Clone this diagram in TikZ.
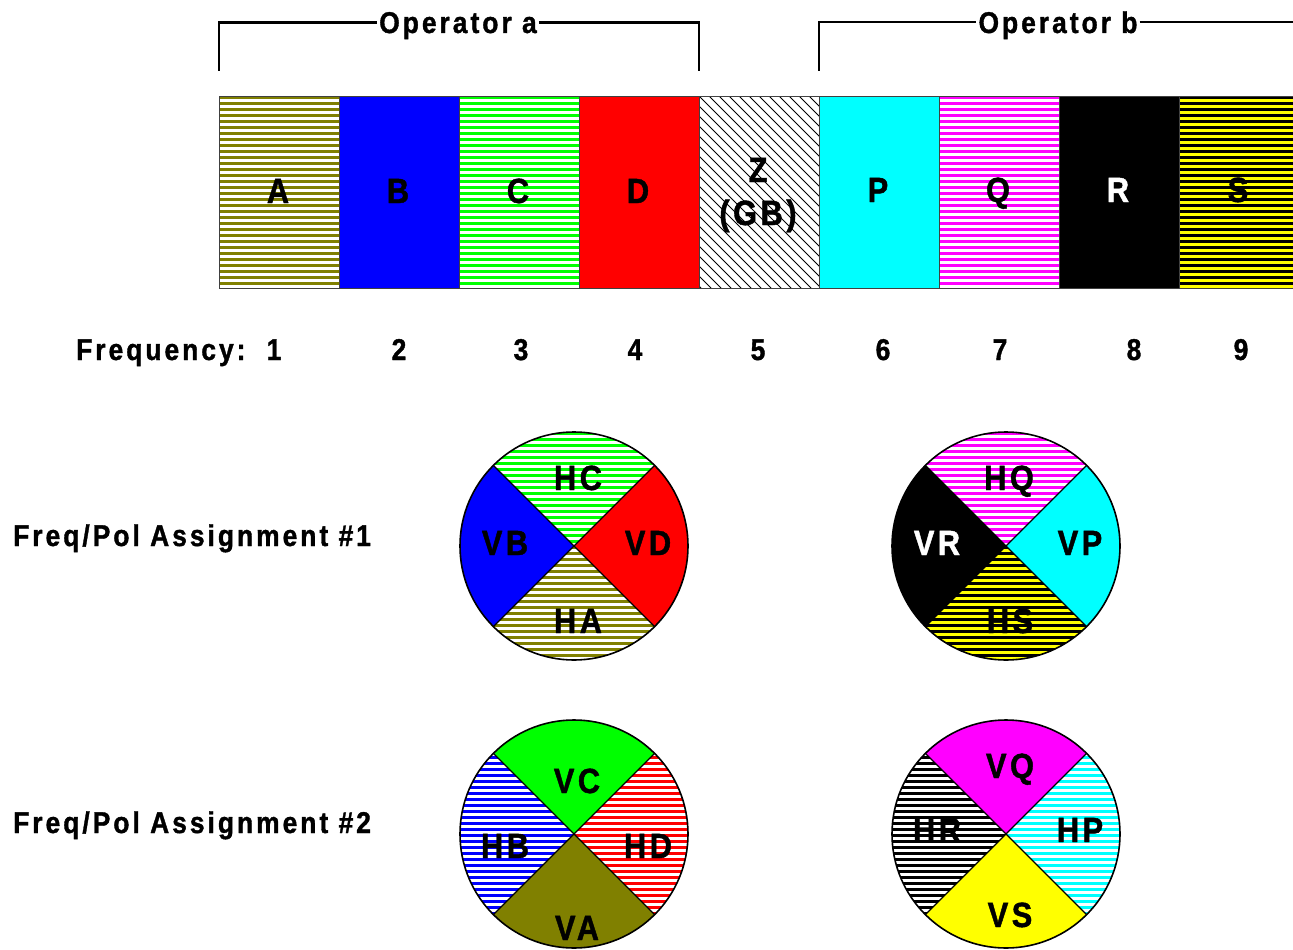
\documentclass[tikz,border=0pt]{standalone}
\usepackage{fontspec}
\newfontfamily\labfont[FakeStretch=0.88,LetterSpace=10,FakeBold=1.2]{Liberation Sans Bold}

\definecolor{cOlive}{RGB}{128,128,0}
\definecolor{cBlue}{RGB}{0,0,255}
\definecolor{cGreen}{RGB}{0,255,0}
\definecolor{cRed}{RGB}{255,0,0}
\definecolor{cCyan}{RGB}{0,255,255}
\definecolor{cMagenta}{RGB}{255,0,255}
\definecolor{cYellow}{RGB}{255,255,0}

% area filled with horizontal stripes: #1 path, #2 ground colour, #3 stripe colour
\newcommand\stripearea[3]{%
  \begin{scope}
    \clip #1;
    \fill[#2] (0,0) rectangle (1300,950);
    \foreach \sy in {0,6,...,948}
      \fill[#3] (0,\sy) rectangle (1300,\sy+3.4);
  \end{scope}}

% quarter sector of a disc: #1 centre, #2 start angle, #3 end angle
\newcommand\sect[3]{(#1) -- ++(#2:114) arc[start angle=#2, end angle=#3, radius=114] -- cycle}

\tikzset{
  small/.style={font=\labfont\fontsize{30}{30}\selectfont, anchor=base, inner sep=0pt},
  big/.style={font=\labfont\fontsize{35}{35}\selectfont, anchor=base, inner sep=0pt},
  bracket/.style={line width=2.6pt},
  barline/.style={draw=black!75, line width=1pt},
  rim/.style={line width=1.6pt},
  sepline/.style={line width=1.3pt},
}

\begin{document}
\begin{tikzpicture}[x=1pt, y=-1pt]
\useasboundingbox[fill=white] (0,0) rectangle (1293,950);

% ---- operator brackets ----
\node[small, text depth=0pt, inner xsep=2pt] (opa) at (458,33) {Operator a};
\node[small, text depth=0pt, inner xsep=2pt] (opb) at (1058,33) {Operator b};
\coordinate (aL) at (219,71);
\coordinate (aR) at (699,71);
\coordinate (bL) at (819,71);
\coordinate (bR) at (1293,71);
\draw[bracket] (aL) |- (opa.west);
\draw[bracket] (opa.east) -| (aR);
\draw[bracket] (bL) |- (opb.west);
\draw[bracket] (opb.east) -- (opb.east -| bR);

% ---- frequency band ----
\stripearea{(219,96) rectangle (339,288)}{white}{cOlive}
\fill[cBlue] (339,96) rectangle (459,288);
\stripearea{(459,96) rectangle (579,288)}{white}{cGreen}
\fill[cRed] (579,96) rectangle (699,288);
\begin{scope}
  \clip (699,96) rectangle (819,288);
  \fill[white] (699,96) rectangle (819,288);
  \foreach \k in {-200,-190,...,120}
    \draw[line width=1pt] (699+\k,96) -- ++(192,192);
\end{scope}
\fill[cCyan] (819,96) rectangle (939,288);
\stripearea{(939,96) rectangle (1059,288)}{white}{cMagenta}
\fill[black] (1059,96) rectangle (1179,288);
\stripearea{(1179,96) rectangle (1299,288)}{cYellow}{black}
\foreach \x in {219,339,...,1179}
  \draw[barline] (\x,96) rectangle (\x+120,288);

\node[big] (lA) at (278,203) {A};
\node[big] (lB) at (398,203) {B};
\node[big] (lC) at (518,203) {C};
\node[big] (lD) at (638,203) {D};
\node[big] (lZ) at (758,182) {Z};
\node[big] (lGB) at (758,225) {(GB)};
\node[big] (lP) at (878,202) {P};
\node[big] (lQ) at (998,202) {Q};
\node[big, text=white] (lR) at (1118,202) {R};
\node[big] (lS) at (1238,202) {S};

% ---- frequency numbers ----
\node[small, anchor=base west] (freq) at (76,360) {Frequency:};
\foreach \n/\x in {1/274,2/399,3/521,4/635,5/758,6/883,7/1000,8/1134,9/1241}
  \node[small] (f\n) at (\x,360) {\n};

% ---- assignment rows ----
\node[small, anchor=base west] (row1) at (13,546) {Freq/Pol Assignment \#1};
\node[small, anchor=base west] (row2) at (13,833) {Freq/Pol Assignment \#2};

\coordinate (c1) at (574,546);
\coordinate (c2) at (1006,546);
\coordinate (c3) at (574,834);
\coordinate (c4) at (1006,834);

% assignment #1, operator a
\stripearea{\sect{c1}{225}{315}}{white}{cGreen}
\fill[cRed] \sect{c1}{-45}{45};
\stripearea{\sect{c1}{45}{135}}{white}{cOlive}
\fill[cBlue] \sect{c1}{135}{225};
% assignment #1, operator b
\stripearea{\sect{c2}{225}{315}}{white}{cMagenta}
\fill[cCyan] \sect{c2}{-45}{45};
\stripearea{\sect{c2}{45}{135}}{cYellow}{black}
\fill[black] \sect{c2}{135}{225};
% assignment #2, operator a
\fill[cGreen] \sect{c3}{225}{315};
\stripearea{\sect{c3}{-45}{45}}{white}{cRed}
\fill[cOlive] \sect{c3}{45}{135};
\stripearea{\sect{c3}{135}{225}}{white}{cBlue}
% assignment #2, operator b
\fill[cMagenta] \sect{c4}{225}{315};
\stripearea{\sect{c4}{-45}{45}}{white}{cCyan}
\fill[cYellow] \sect{c4}{45}{135};
\stripearea{\sect{c4}{135}{225}}{white}{black}

\foreach \c in {c1,c2,c3,c4} {
  \draw[sepline] (\c) ++(45:114) -- ++(225:228);
  \draw[sepline] (\c) ++(135:114) -- ++(315:228);
  \draw[rim] (\c) circle[radius=114];
}

\node[big] (hc) at (578,490) {HC};
\node[big] (vb) at (505,555) {VB};
\node[big] (vd) at (648,555) {VD};
\node[big] (ha) at (578,633) {HA};

\node[big] (hq) at (1009,490) {HQ};
\node[big, text=white] (vr) at (937,555) {VR};
\node[big] (vp) at (1080,555) {VP};
\node[big] (hs) at (1010,633) {HS};

\node[big] (vc) at (577,793) {VC};
\node[big] (hb) at (505,858) {HB};
\node[big] (hd) at (648,858) {HD};
\node[big] (va) at (577,940) {VA};

\node[big] (vq) at (1010,778) {VQ};
\node[big] (hr) at (937,842) {HR};
\node[big] (hp) at (1080,842) {HP};
\node[big] (vs) at (1010,927) {VS};
\end{tikzpicture}
\end{document}
